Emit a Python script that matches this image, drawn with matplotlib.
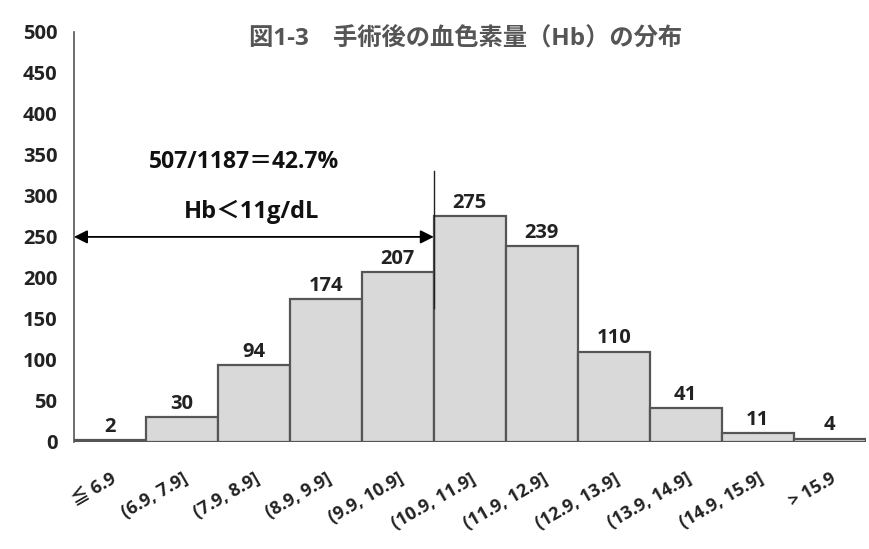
import matplotlib
matplotlib.use("Agg")
import matplotlib.pyplot as plt
import numpy as np

plt.rcParams['font.family'] = ['Open Sans', 'Noto Sans CJK JP', 'DejaVu Sans']

# Hb区間と度数
categories = ["≦ 6.9", "(6.9, 7.9]", "(7.9, 8.9]", "(8.9, 9.9]", "(9.9, 10.9]",
              "(10.9, 11.9]", "(11.9, 12.9]", "(12.9, 13.9]", "(13.9, 14.9]",
              "(14.9, 15.9]", "> 15.9"]
counts = [2, 30, 94, 174, 207, 275, 239, 110, 41, 11, 4]
yticks = [0, 50, 100, 150, 200, 250, 300, 350, 400, 450, 500]

fig = plt.figure(figsize=(8.7, 5.49), dpi=100)
ax = fig.add_axes([0.085, 0.195, 0.91, 0.747])

x = np.arange(len(counts))
ax.bar(x, counts, width=1.0, color="#d9d9d9", edgecolor="#555555", linewidth=1.6)

for xi, c in zip(x, counts):
    ax.text(xi, c + 4, str(c), ha="center", va="bottom",
            fontsize=14.5, fontweight="bold", color="#222222")

ax.set_xlim(-0.5, len(counts) - 0.5)
ax.set_ylim(0, 500)
ax.set_yticks(yticks)
ax.set_yticklabels([str(v) for v in yticks], fontsize=14.5, fontweight="bold", color="#222222")
ax.set_xticks(x)
ax.set_xticklabels(categories, rotation=30, ha="right", rotation_mode="anchor",
                   fontsize=13, fontweight="bold", color="#222222")
ax.tick_params(axis="x", length=0, pad=20)
ax.tick_params(axis="y", length=0, pad=12)

for side in ["top", "right", "bottom"]:
    ax.spines[side].set_visible(False)
ax.spines["left"].set_color("#555555")
ax.spines["left"].set_linewidth(1.2)

# Hb < 11 の範囲を示す矢印と区切り線
ax.plot([4.5, 4.5], [163, 330], color="#222222", linewidth=1.0)
ax.annotate("", xy=(-0.5, 250), xytext=(4.5, 250),
            arrowprops=dict(arrowstyle="<|-|>", color="black", linewidth=1.3,
                            mutation_scale=20, shrinkA=0, shrinkB=0))
ax.text(1.97, 280, "Hb＜11g/dL", ha="center", va="center",
        fontsize=17, fontweight="bold", color="#111111")
ax.text(1.87, 341, "507/1187＝42.7%", ha="center", va="center",
        fontsize=16.5, fontweight="bold", color="#111111")

fig.text(0.535, 0.928, "図1-3　手術後の血色素量（Hb）の分布", ha="center", va="center",
         fontsize=17.5, fontweight="bold", color="#555555")

fig.savefig("out.png", dpi=100)
